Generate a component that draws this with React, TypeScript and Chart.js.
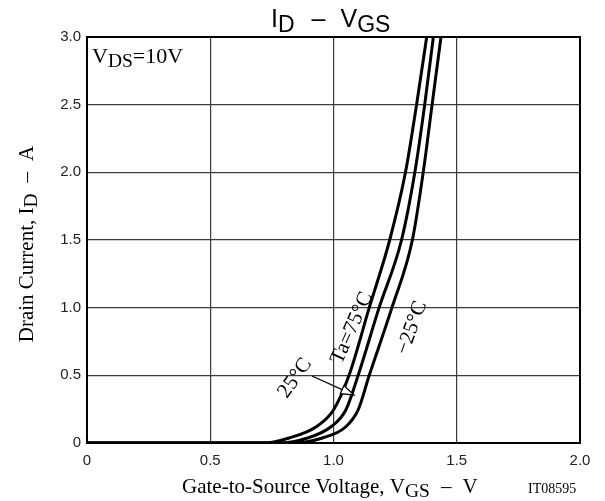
import React, { useEffect, useRef } from "react";
import { Chart, registerables } from "chart.js";

Chart.register(...registerables);

// ---- data ----
const idLevels = [0, 0, 0.037, 0.12, 0.244, 0.5, 1.0, 1.5, 2.0, 2.5, 3.0];
const vgsTa75 = [0, 0.72, 0.82, 0.93, 1.0, 1.063, 1.145, 1.228, 1.292, 1.337, 1.378];
const vgsTa25 = [0, 0.78, 0.895, 0.99, 1.05, 1.1, 1.185, 1.276, 1.33, 1.37, 1.405];
const vgsTaM25 = [0, 0.83, 0.955, 1.05, 1.1, 1.145, 1.237, 1.32, 1.364, 1.4, 1.436];
const xTicks = [0, 0.5, 1.0, 1.5, 2.0];
const yTicks = [0, 0.5, 1.0, 1.5, 2.0, 2.5, 3.0];

const SERIF = '"Liberation Serif", "Times New Roman", serif';
const SANS = '"Liberation Sans", Arial, sans-serif';

type Part = { t: string; sub?: boolean; gap?: number };

function drawRich(
  ctx: CanvasRenderingContext2D,
  parts: Part[],
  x: number,
  y: number,
  size: number,
  subSize: number,
  subDrop: number,
  family: string,
  align: "left" | "center" = "left"
) {
  const widths = parts.map((p) => {
    if (p.gap !== undefined) return p.gap;
    ctx.font = `${p.sub ? subSize : size}px ${family}`;
    return ctx.measureText(p.t).width;
  });
  const total = widths.reduce((a, b) => a + b, 0);
  let cx = align === "center" ? x - total / 2 : x;
  ctx.textBaseline = "alphabetic";
  ctx.textAlign = "left";
  parts.forEach((p, i) => {
    if (p.gap === undefined) {
      ctx.font = `${p.sub ? subSize : size}px ${family}`;
      ctx.fillText(p.t, cx, p.sub ? y + subDrop : y);
    }
    cx += widths[i];
  });
}

const decorPlugin = {
  id: "decor",
  afterDraw(chart: any) {
    const { ctx, chartArea, scales } = chart;
    const xs = scales.x;
    const ys = scales.y;
    const px = (v: number) => xs.getPixelForValue(v);
    const py = (v: number) => ys.getPixelForValue(v);
    ctx.save();
    // border
    ctx.strokeStyle = "#000";
    ctx.lineWidth = 2;
    ctx.strokeRect(chartArea.left, chartArea.top, chartArea.right - chartArea.left, chartArea.bottom - chartArea.top);
    ctx.fillStyle = "#000";

    // title
    drawRich(
      ctx,
      [{ t: "I" }, { t: "D", sub: true }, { gap: 17 }, { t: "–" }, { gap: 15 }, { t: "V" }, { t: "GS", sub: true }],
      271,
      26.5,
      25,
      23,
      5.5,
      SANS
    );

    // V_DS label
    drawRich(ctx, [{ t: "V" }, { t: "DS", sub: true }, { t: "=10V" }], 92, 63, 22, 19.5, 3.5, SERIF);

    // x title
    drawRich(
      ctx,
      [{ t: "Gate-to-Source Voltage, V" }, { t: "GS", sub: true }, { gap: 11 }, { t: "–" }, { gap: 11 }, { t: "V" }],
      182,
      493,
      21,
      19.5,
      4,
      SERIF
    );
    // code
    ctx.font = `14px ${SERIF}`;
    ctx.textAlign = "left";
    ctx.fillText("IT08595", 528, 493);

    // y title
    ctx.save();
    ctx.translate(33, 244);
    ctx.rotate(-Math.PI / 2);
    drawRich(
      ctx,
      [{ t: "Drain Current, I" }, { t: "D", sub: true }, { gap: 11 }, { t: "–" }, { gap: 11 }, { t: "A" }],
      0,
      0,
      21,
      19.5,
      4,
      SERIF,
      "center"
    );
    ctx.restore();

    // rotated curve labels
    const rotLabel = (txt: string, vx: number, vy: number, deg: number) => {
      ctx.save();
      ctx.translate(px(vx), py(vy));
      ctx.rotate((deg * Math.PI) / 180);
      ctx.font = `21px ${SERIF}`;
      ctx.textAlign = "center";
      ctx.textBaseline = "middle";
      ctx.fillText(txt, 0, 0);
      ctx.restore();
    };
    rotLabel("25°C", 0.844, 0.48, -55);
    rotLabel("Ta=75°C", 1.075, 0.85, -66);
    rotLabel("−25°C", 1.318, 0.85, -70);

    // arrow
    const x1 = px(0.913), y1 = py(0.495), x2 = px(1.083), y2 = py(0.355);
    const ang = Math.atan2(y2 - y1, x2 - x1);
    const hl = 13, hw = 4.5;
    const bx = x2 - hl * Math.cos(ang), by = y2 - hl * Math.sin(ang);
    ctx.strokeStyle = "#000";
    ctx.lineWidth = 1.2;
    ctx.beginPath();
    ctx.moveTo(x1, y1);
    ctx.lineTo(bx, by);
    ctx.stroke();
    ctx.beginPath();
    ctx.moveTo(x2, y2);
    ctx.lineTo(bx + hw * Math.sin(ang), by - hw * Math.cos(ang));
    ctx.lineTo(bx - hw * Math.sin(ang), by + hw * Math.cos(ang));
    ctx.closePath();
    ctx.fillStyle = "#fff";
    ctx.fill();
    ctx.stroke();
    ctx.restore();
  },
};

export default function App() {
  const ref = useRef<HTMLCanvasElement | null>(null);
  useEffect(() => {
    if (!ref.current) return;
    const mk = (xsArr: number[]) => xsArr.map((x, i) => ({ x, y: idLevels[i] }));
    const ds = (label: string, xsArr: number[]) => ({
      label,
      data: mk(xsArr),
      borderColor: "#000",
      borderWidth: 3,
      pointRadius: 0,
      fill: false,
      cubicInterpolationMode: "monotone" as const,
    });
    const chart = new Chart(ref.current, {
      type: "line",
      data: {
        datasets: [ds("Ta=75°C", vgsTa75), ds("25°C", vgsTa25), ds("−25°C", vgsTaM25)],
      },
      options: {
        animation: false,
        responsive: false,
        devicePixelRatio: 1,
        layout: { padding: { left: 0, right: 25, top: 37, bottom: 0 } },
        plugins: { legend: { display: false }, tooltip: { enabled: false }, title: { display: false } },
        scales: {
          x: {
            type: "linear",
            min: 0,
            max: 2,
            afterBuildTicks: (s: any) => {
              s.ticks = xTicks.map((v) => ({ value: v }));
            },
            afterFit: (s: any) => {
              s.height = 58;
            },
            grid: { color: "#3a3a3a", lineWidth: 1.2, drawTicks: false },
            border: { display: false },
            ticks: {
              color: "#222",
              font: { family: SANS, size: 15 },
              padding: 9,
              maxRotation: 0,
              callback: (v: any) => (v === 0 ? "0" : Number(v).toFixed(1)),
            },
          },
          y: {
            type: "linear",
            min: 0,
            max: 3,
            afterBuildTicks: (s: any) => {
              s.ticks = yTicks.map((v) => ({ value: v }));
            },
            afterFit: (s: any) => {
              s.width = 87;
            },
            grid: { color: "#3a3a3a", lineWidth: 1.2, drawTicks: false },
            border: { display: false },
            ticks: {
              color: "#222",
              font: { family: SANS, size: 15 },
              padding: 6,
              callback: (v: any) => (v === 0 ? "0" : Number(v).toFixed(1)),
            },
          },
        },
      },
      plugins: [decorPlugin],
    });
    return () => chart.destroy();
  }, []);
  return (
    <div style={{ position: "fixed", left: 0, top: 0, width: 605, height: 501, background: "#fff" }}>
      <canvas ref={ref} width={605} height={501} style={{ width: 605, height: 501, display: "block" }} />
    </div>
  );
}
